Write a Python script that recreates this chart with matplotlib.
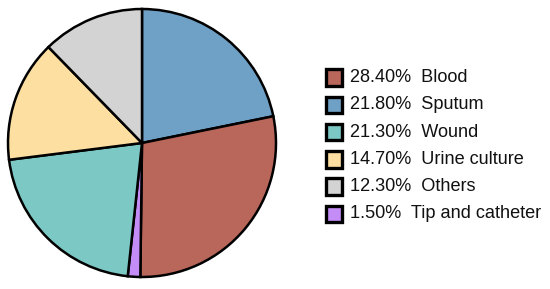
import matplotlib.pyplot as plt
from matplotlib.patches import Rectangle

plt.rcParams['font.family'] = ['Liberation Sans', 'DejaVu Sans']

# legend order
labels = ['Blood', 'Sputum', 'Wound', 'Urine culture', 'Others', 'Tip and catheter']
values = [28.4, 21.8, 21.3, 14.7, 12.3, 1.5]
colors = ['#b9675b', '#6fa0c5', '#7cc8c4', '#fddfa1', '#d3d3d3', '#c48cf6']

# order the slices appear clockwise from 12 o'clock
pie_order = [1, 0, 5, 2, 3, 4]

fig = plt.figure(figsize=(5.5, 2.89), dpi=100)
ax = fig.add_axes([8 / 550, 12 / 289, 268 / 550, 268 / 289])

wedges, _ = ax.pie([values[i] for i in pie_order],
                   colors=[colors[i] for i in pie_order],
                   startangle=90, counterclock=False,
                   wedgeprops=dict(edgecolor='black', linewidth=1.8))
for w in wedges:
    w.set_clip_on(False)
ax.set_xlim(-1, 1)
ax.set_ylim(-1, 1)
ax.set_aspect('equal')
ax.axis('off')

# legend drawn by hand
W, H = 550, 289
y0, dy = 77.5, 27.3
for i, (lab, val, col) in enumerate(zip(labels, values, colors)):
    yc = y0 + i * dy
    sq = 16.5
    fig.patches.append(Rectangle((325.5 / W, (H - yc - sq / 2) / H), sq / W, sq / H,
                                 transform=fig.transFigure, facecolor=col,
                                 edgecolor='black', linewidth=2.4))
    fig.text(350.5 / W, (H - yc) / H, f'{val:.2f}%  {lab}', fontsize=13.1,
             va='center', ha='left', color='#111111')

fig.savefig('out.png', dpi=100)
